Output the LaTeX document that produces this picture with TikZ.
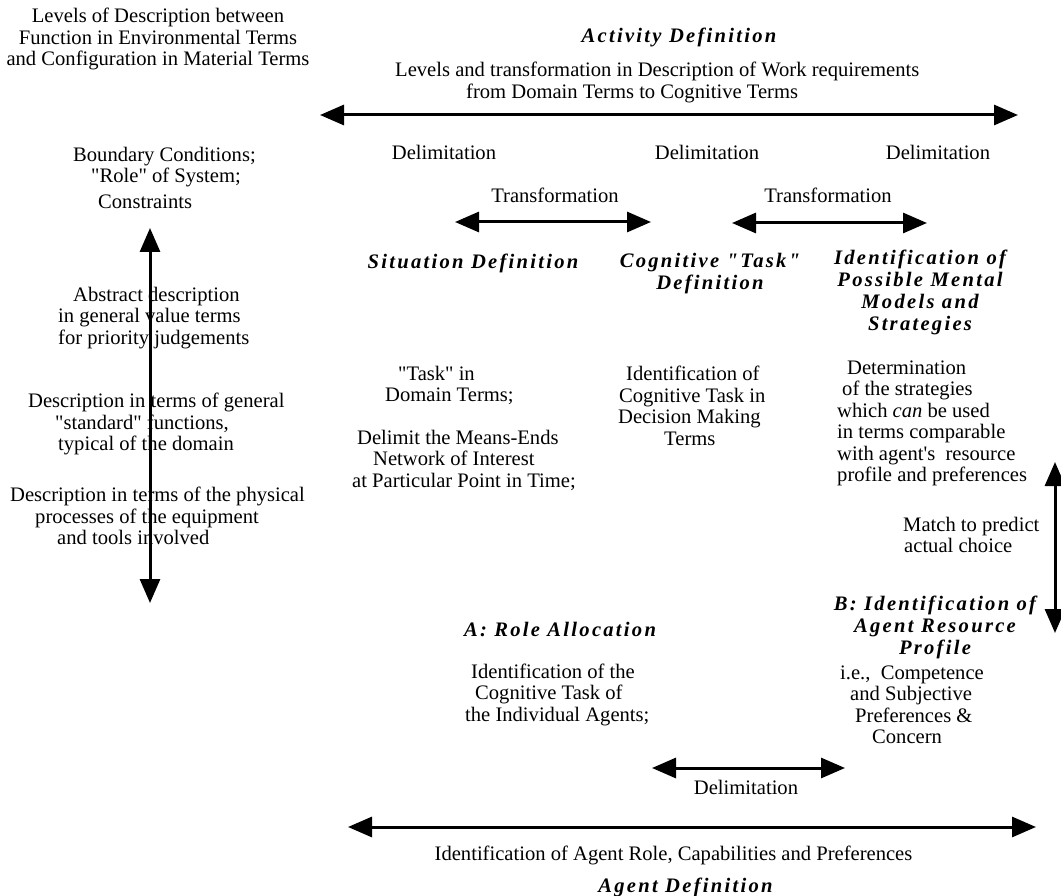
\documentclass[tikz,border=0pt]{standalone}
\usepackage{fontspec}
\setmainfont{Liberation Serif}[Ligatures=TeXOff]
\newfontfamily\hdfam[LetterSpace=11]{Liberation Serif}
\usetikzlibrary{arrows.meta}
\newcommand\bodyfnt{\fontsize{20.6}{21.5}\selectfont}
\newcommand\hdfnt{\hdfam\bfseries\itshape\fontsize{20.6}{22}\selectfont}
\begin{document}
\begin{tikzpicture}[x=1pt,y=-1pt,
  txt/.style={inner sep=0pt, font=\bodyfnt},
  lft/.style={txt, align=left, anchor=west},
  hd/.style={inner sep=0pt, font=\hdfnt},
  dbl/.style={line width=3pt, {Triangle[length=24pt,width=20pt]}-{Triangle[length=24pt,width=20pt]}}]
\useasboundingbox (0,0) rectangle (1061,896);

% top
\node[txt, align=center] (lvl) at (158,39) {Levels of Description between\\Function in Environmental Terms\\and Configuration in Material Terms};
\node[hd] (act) at (679,37) {Activity Definition};
\node[lft] (lvtr) at (395,82.5) {Levels and transformation in Description of Work requirements\\\hspace*{71pt}from Domain Terms to Cognitive Terms};
\coordinate (tl) at (320,115);
\coordinate (tr) at (1018,115);
\draw[dbl] (tl) -- (tr);

\node[txt] (d1) at (444,152) {Delimitation};
\node[txt] (d2) at (707,152) {Delimitation};
\node[txt] (d3) at (938,152) {Delimitation};
\node[txt] (t1) at (555,195) {Transformation};
\node[txt] (t2) at (828,195) {Transformation};
\coordinate (t1a) at (455,222);
\coordinate (t1b) at (651,222);
\coordinate (t2a) at (732,223);
\coordinate (t2b) at (927,223);
\draw[dbl] (t1a) -- (t1b);
\draw[dbl] (t2a) -- (t2b);

\node[hd] (sit) at (473,263) {Situation Definition};
\node[hd, align=center] (cog) at (710,274) {Cognitive "Task"\\Definition};
\node[hd, align=center] (idm) at (920,292.5) {Identification of\\Possible Mental\\Models and\\Strategies};

% left column
\node[lft] (bnd) at (73,177.5) {Boundary Conditions;\\\hspace*{18pt}"Role" of System;\\[4pt]\hspace*{25pt}Constraints};
\coordinate (la) at (150,228);
\coordinate (lb) at (150,603);
\draw[dbl] (la) -- (lb);
\node[lft] (abs) at (58,318) {\hspace*{15pt}Abstract description\\in general value terms\\for priority judgements};
\node[lft] (gen) at (28,424) {Description in terms of general\\\hspace*{27pt}"standard" functions,\\\hspace*{30pt}typical of the domain};
\node[lft] (phy) at (10,516) {Description in terms of the physical\\\hspace*{25pt}processes of the equipment\\\hspace*{47pt}and tools involved};

% middle
\node[lft] (tsk) at (385,385.5) {\hspace*{13pt}"Task" in\\Domain Terms;};
\node[lft] (dlm) at (352,460) {\hspace*{5pt}Delimit the Means-Ends\\\hspace*{21pt}Network of Interest\\at Particular Point in Time;};
\node[lft] (ict) at (618,406) {\hspace*{8pt}Identification of\\\hspace*{1pt}Cognitive Task in\\Decision Making\\\hspace*{46pt}Terms};
\node[lft] (det) at (837,423.5) {\hspace*{10pt}Determination\\\hspace*{5pt}of the strategies\\which \textit{can} be used\\in terms comparable\\with agent's\ \ resource\\profile and preferences};
\node[lft] (mat) at (903,535) {Match to predict\\\hspace*{1pt}actual choice};
\coordinate (ra) at (1055,462);
\coordinate (rb) at (1055,633);
\draw[dbl] (ra) -- (rb);

% bottom
\node[hd] (rol) at (560,629) {A: Role Allocation};
\node[lft] (ida) at (465,694.5) {\hspace*{6pt}Identification of the\\\hspace*{10pt}Cognitive Task of\\the Individual Agents;};
\node[hd, align=center] (bid) at (935,627.5) {B: Identification of\\Agent Resource\\Profile};
\node[lft] (ie) at (840,705) {i.e.,\ \ Competence\\\hspace*{10pt}and Subjective\\\hspace*{15pt}Preferences \&\\\hspace*{32pt}Concern};
\coordinate (da) at (652,768);
\coordinate (db) at (845,768);
\draw[dbl] (da) -- (db);
\node[txt] (d4) at (746,787) {Delimitation};
\coordinate (ba) at (348,827);
\coordinate (bb) at (1036,827);
\draw[dbl] (ba) -- (bb);
\node[txt] (agr) at (673.5,855) {Identification of Agent Role, Capabilities and Preferences};
\node[hd] (agd) at (685.5,887) {Agent Definition};
\end{tikzpicture}
\end{document}
